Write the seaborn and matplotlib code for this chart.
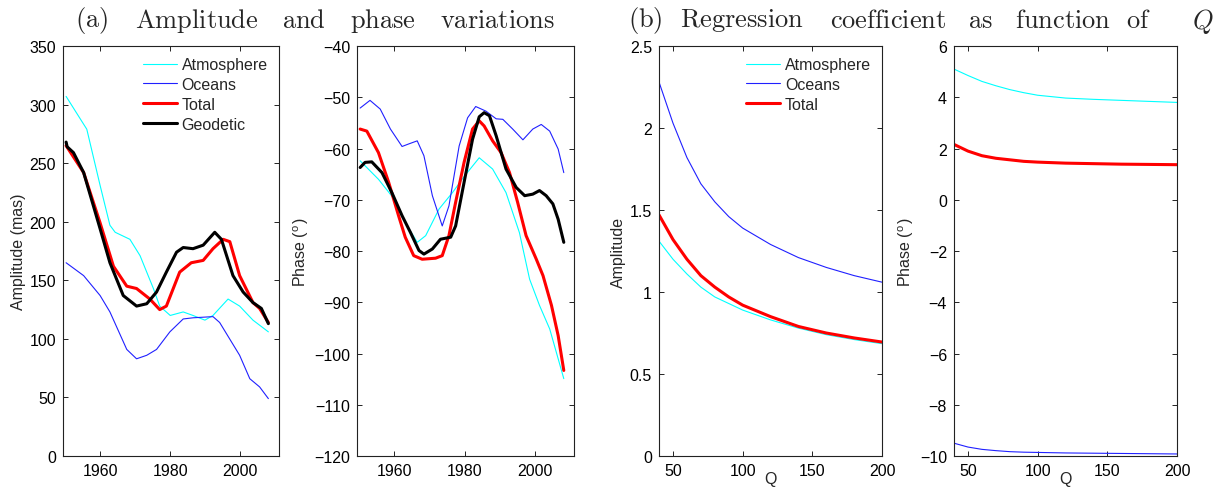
import matplotlib
matplotlib.use('Agg')
import matplotlib.pyplot as plt
import seaborn as sns

# ---- (a) amplitude (mas) vs year ----
amp_atm_year = [1950.3, 1956.2, 1960.0, 1962.8, 1964.3, 1968.5, 1971.4, 1975.2, 1977.0, 1980.0,
                1983.7, 1986.5, 1989.9, 1992.2, 1996.5, 1999.8, 2003.6, 2008.0]
amp_atm = [307, 279, 231, 197, 191, 185, 171, 143, 128, 120,
           123, 120, 116, 120, 134, 128, 116, 106]

amp_oce_year = [1950.3, 1955.3, 1960.0, 1962.8, 1967.6, 1970.4, 1973.3, 1976.1, 1979.9, 1983.7,
                1986.5, 1992.2, 1994.1, 1999.8, 2002.7, 2005.5, 2008.0]
amp_oce = [165, 154, 137, 123, 91, 83, 86, 91, 106, 117,
           118, 119, 114, 86, 66, 59, 49]

amp_tot_year = [1950.3, 1955.3, 1960.0, 1963.8, 1967.6, 1970.4, 1974.2, 1977.0, 1978.9, 1982.7,
                1986.0, 1989.4, 1992.2, 1995.1, 1997.0, 1999.8, 2003.6, 2005.5, 2008.0]
amp_tot = [265, 242, 199, 162, 145, 143, 134, 125, 128, 157,
           165, 167, 177, 185, 183, 154, 131, 126, 114]

amp_geo_year = [1950.3, 1950.6, 1952.4, 1955.3, 1960.0, 1962.8, 1966.6, 1970.4, 1973.3, 1976.1,
                1978.9, 1981.8, 1983.7, 1986.5, 1989.4, 1992.7, 1994.6, 1997.9, 2000.8, 2003.6,
                2006.0, 2008.0]
amp_geo = [268, 264, 259, 242, 194, 165, 137, 128, 130, 140,
           157, 174, 178, 177, 180, 191, 185, 154, 140, 131,
           126, 113]

# ---- (a) phase (deg) vs year ----
ph_atm_year = [1950.3, 1955.5, 1960.0, 1963.1, 1966.5, 1968.9, 1972.7, 1976.5, 1980.0, 1984.1,
               1987.9, 1991.7, 1995.5, 1998.4, 2001.2, 2004.1, 2008.1]
ph_atm = [-62.4, -66.0, -69.9, -74.4, -78.3, -77.0, -71.8, -68.6, -65.3, -61.8,
          -64.0, -68.6, -76.4, -85.5, -90.6, -95.2, -104.9]

ph_oce_year = [1950.3, 1953.1, 1956.0, 1958.9, 1962.2, 1964.1, 1966.5, 1968.4, 1970.8, 1973.6,
               1975.5, 1978.4, 1980.8, 1983.1, 1986.0, 1988.9, 1990.8, 1993.6, 1996.5, 1999.3,
               2001.7, 2004.1, 2006.5, 2008.1]
ph_oce = [-52.1, -50.6, -52.3, -56.2, -59.6, -59.1, -58.5, -61.4, -69.2, -75.1,
          -71.2, -59.5, -54.0, -51.8, -52.7, -54.2, -54.3, -56.2, -58.3, -56.2,
          -55.3, -56.6, -60.1, -64.7]

ph_tot_year = [1950.3, 1952.2, 1955.5, 1958.4, 1961.2, 1963.1, 1965.5, 1967.9, 1971.7, 1973.6,
               1975.5, 1977.4, 1979.8, 1982.2, 1984.1, 1985.5, 1987.9, 1990.3, 1992.7, 1995.0,
               1997.4, 2000.3, 2002.2, 2004.6, 2006.5, 2008.1]
ph_tot = [-56.2, -56.6, -60.8, -66.6, -73.1, -77.3, -80.9, -81.6, -81.4, -80.9,
          -77.0, -70.5, -62.7, -56.2, -54.6, -55.6, -58.5, -60.8, -64.7, -70.5,
          -77.0, -81.6, -84.8, -90.6, -96.5, -103.3]

ph_geo_year = [1950.3, 1951.7, 1953.6, 1956.5, 1959.3, 1962.2, 1964.6, 1967.0, 1968.4, 1970.8,
               1973.1, 1976.0, 1977.4, 1979.8, 1982.2, 1984.1, 1985.5, 1987.0, 1988.9, 1991.7,
               1994.6, 1997.0, 1999.3, 2001.2, 2003.1, 2005.0, 2006.5, 2008.1]
ph_geo = [-63.7, -62.7, -62.6, -64.7, -68.6, -73.1, -76.4, -79.9, -80.6, -79.6,
          -77.7, -77.3, -75.1, -66.6, -58.2, -53.8, -53.0, -53.6, -57.5, -64.0,
          -67.6, -69.2, -68.9, -68.2, -69.2, -70.8, -73.8, -78.3]

# ---- (b) regression coefficient vs Q ----
q_vals = [40, 50, 60, 70, 80, 90, 100, 120, 140, 160, 180, 200]
reg_amp_atm = [1.31, 1.20, 1.11, 1.03, 0.97, 0.93, 0.89, 0.83, 0.78, 0.74, 0.71, 0.685]
reg_amp_oce = [2.28, 2.03, 1.82, 1.66, 1.55, 1.46, 1.39, 1.29, 1.21, 1.15, 1.10, 1.06]
reg_amp_tot = [1.47, 1.32, 1.20, 1.10, 1.03, 0.97, 0.92, 0.85, 0.79, 0.75, 0.72, 0.695]
reg_ph_atm = [5.10, 4.85, 4.62, 4.45, 4.30, 4.18, 4.08, 3.97, 3.92, 3.88, 3.84, 3.80]
reg_ph_oce = [-9.50, -9.65, -9.74, -9.79, -9.83, -9.85, -9.86, -9.88, -9.89, -9.90, -9.91, -9.92]
reg_ph_tot = [2.16, 1.90, 1.72, 1.62, 1.56, 1.50, 1.47, 1.43, 1.41, 1.39, 1.38, 1.37]

CYAN = '#00ffff'
BLUE = '#2020ff'
RED = '#ff0000'
BLACK = '#000000'
THIN = 0.8
THICK = 2.2

sns.set_style("ticks")
plt.rcParams['font.family'] = ['Liberation Sans', 'DejaVu Sans']
plt.rcParams['mathtext.fontset'] = 'cm'
plt.rcParams['font.size'] = 11

fig = plt.figure(figsize=(12.2, 4.89), dpi=100)
bottom, height = 0.0654, 0.8384
ax1 = fig.add_axes([0.0516, bottom, 0.1770, height])
ax2 = fig.add_axes([0.2926, bottom, 0.1779, height])
ax3 = fig.add_axes([0.5402, bottom, 0.1828, height])
ax4 = fig.add_axes([0.7820, bottom, 0.1828, height])

# panel 1
sns.lineplot(x=amp_atm_year, y=amp_atm, ax=ax1, color=CYAN, lw=THIN, label='Atmosphere')
sns.lineplot(x=amp_oce_year, y=amp_oce, ax=ax1, color=BLUE, lw=THIN, label='Oceans')
sns.lineplot(x=amp_tot_year, y=amp_tot, ax=ax1, color=RED, lw=THICK, label='Total')
sns.lineplot(x=amp_geo_year, y=amp_geo, ax=ax1, color=BLACK, lw=THICK, label='Geodetic')
ax1.set_ylim(0, 350)
ax1.set_yticks(range(0, 351, 50))
ax1.set_ylabel('Amplitude (mas)', labelpad=2.5)

# panel 2
sns.lineplot(x=ph_atm_year, y=ph_atm, ax=ax2, color=CYAN, lw=THIN)
sns.lineplot(x=ph_oce_year, y=ph_oce, ax=ax2, color=BLUE, lw=THIN)
sns.lineplot(x=ph_tot_year, y=ph_tot, ax=ax2, color=RED, lw=THICK)
sns.lineplot(x=ph_geo_year, y=ph_geo, ax=ax2, color=BLACK, lw=THICK)
ax2.set_ylim(-120, -40)
ax2.set_yticks(range(-120, -39, 10))
ax2.set_ylabel('Phase ($^\\mathregular{o}$)', labelpad=2.5)

for ax in (ax1, ax2):
    ax.set_xlim(1949.4, 2011)
    ax.set_xticks([1960, 1980, 2000])

# panel 3
sns.lineplot(x=q_vals, y=reg_amp_atm, ax=ax3, color=CYAN, lw=THIN, label='Atmosphere')
sns.lineplot(x=q_vals, y=reg_amp_oce, ax=ax3, color=BLUE, lw=THIN, label='Oceans')
sns.lineplot(x=q_vals, y=reg_amp_tot, ax=ax3, color=RED, lw=THICK, label='Total')
ax3.set_ylim(0, 2.5)
ax3.set_yticks([0, 0.5, 1, 1.5, 2, 2.5])
ax3.set_yticklabels(['0', '0.5', '1', '1.5', '2', '2.5'])
ax3.set_ylabel('Amplitude', labelpad=2.5)

# panel 4
sns.lineplot(x=q_vals, y=reg_ph_atm, ax=ax4, color=CYAN, lw=THIN)
sns.lineplot(x=q_vals, y=reg_ph_oce, ax=ax4, color=BLUE, lw=THIN)
sns.lineplot(x=q_vals, y=reg_ph_tot, ax=ax4, color=RED, lw=THICK)
ax4.set_ylim(-10, 6)
ax4.set_yticks(range(-10, 7, 2))
ax4.set_ylabel('Phase ($^\\mathregular{o}$)', labelpad=2.5)

for ax in (ax3, ax4):
    ax.set_xlim(40, 200)
    ax.set_xticks([50, 100, 150, 200])
    ax.set_xlabel('Q', labelpad=-5)

for ax in (ax1, ax2, ax3, ax4):
    ax.tick_params(direction='in', top=True, right=True, length=3.5, width=0.6,
                   labelsize=11.5, pad=5, colors='black')
    for sp in ax.spines.values():
        sp.set_visible(True)
        sp.set_linewidth(0.8)
        sp.set_color('#222222')
    ax.yaxis.label.set_size(11.5)
    ax.xaxis.label.set_size(11.5)

for ax in (ax1, ax3):
    ax.legend(loc='upper right', bbox_to_anchor=(1.0, 1.0), frameon=False,
              handlelength=2.1, labelspacing=0.3, handletextpad=0.3,
              borderaxespad=0.3, fontsize=11.5)

# justified-looking titles, one word at a time
title_a = [('(a)', 75), ('Amplitude', 135), ('and', 282), ('phase', 350), ('variations', 440)]
title_b = [('(b)', 628), ('Regression', 680), ('coefficient', 830), ('as', 968),
           ('function', 1015), ('of', 1126), ('$Q$', 1192)]
for words in (title_a, title_b):
    for w, px in words:
        txt = w if w.startswith('$') else '$\\mathrm{' + w + '}$'
        fig.text(px / 1220, 1 - 21 / 489, txt, fontsize=19, ha='left', va='center')

fig.savefig('out.png', dpi=100)
